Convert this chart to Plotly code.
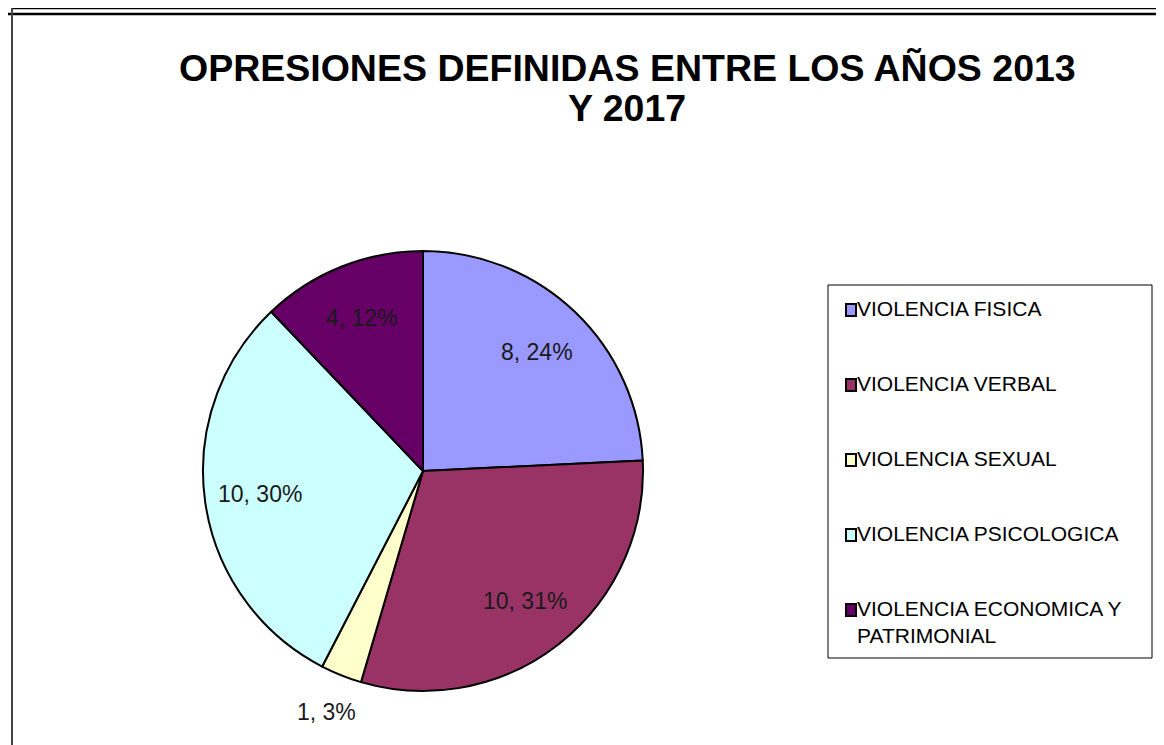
import math
import plotly.graph_objects as go

categories = ["VIOLENCIA FISICA", "VIOLENCIA VERBAL", "VIOLENCIA SEXUAL",
              "VIOLENCIA PSICOLOGICA", "VIOLENCIA ECONOMICA Y PATRIMONIAL"]
legend_labels = ["VIOLENCIA FISICA", "VIOLENCIA VERBAL", "VIOLENCIA SEXUAL",
                 "VIOLENCIA PSICOLOGICA", "VIOLENCIA ECONOMICA Y<br>PATRIMONIAL"]
values = [8, 10, 1, 10, 4]
pct_labels = ["24%", "31%", "3%", "30%", "12%"]
colors = ["#9999FF", "#993366", "#FFFFCC", "#CCFFFF", "#660066"]
title_lines = ["OPRESIONES DEFINIDAS ENTRE LOS AÑOS 2013", "Y 2017"]

# page body has an 8px margin: figure is drawn 8px right/down of the window edge
OFF = 8
W, H = 1164 - OFF, 745 - OFF
FONT = "Liberation Sans, Arial, sans-serif"


def px(x):
    return (x - OFF) / W


def py(y):
    return 1 - (y - OFF) / H


# pie geometry (window pixel coordinates)
CX, CY, R = 423, 471, 220
INSIDE_R, OUTSIDE_R = 0.75, 1.18
inside = [True, True, False, True, True]

fig = go.Figure()
fig.add_trace(go.Pie(
    labels=categories,
    values=values,
    customdata=pct_labels,
    textinfo="none",
    marker=dict(colors=colors, line=dict(color="#000000", width=2)),
    sort=False,
    direction="clockwise",
    rotation=0,
    showlegend=False,
    domain=dict(x=[px(CX - R), px(CX + R)], y=[py(CY + R), py(CY - R)]),
    hovertemplate="%{label}<br>%{value}, %{customdata}<extra></extra>",
))

shapes = []
annotations = []

# data labels placed at each slice's mid-angle, computed from the values
total = sum(values)
cum = 0
for v, p, ins in zip(values, pct_labels, inside):
    mid = (cum + v / 2) / total * 2 * math.pi
    cum += v
    rr = R * (INSIDE_R if ins else OUTSIDE_R)
    lx = CX + rr * math.sin(mid)
    ly = CY - rr * math.cos(mid)
    annotations.append(dict(text="%d, %s" % (v, p), xref="paper", yref="paper",
                            x=px(lx), y=py(ly), xanchor="center", yanchor="middle",
                            showarrow=False,
                            font=dict(family=FONT, size=23, color="#1a1a1a")))

# frame lines
shapes.append(dict(type="line", xref="paper", yref="paper", x0=px(12), x1=1.0,
                   y0=py(8.5), y1=py(8.5), line=dict(color="#000000", width=1.5)))
shapes.append(dict(type="line", xref="paper", yref="paper", x0=px(5), x1=px(1163),
                   y0=py(14), y1=py(14), line=dict(color="#000000", width=2.5)))
shapes.append(dict(type="line", xref="paper", yref="paper", x0=px(12), x1=px(12),
                   y0=py(8), y1=0, line=dict(color="#444444", width=2)))

# title
for line, base in zip(title_lines, [83, 123]):
    annotations.append(dict(text="<b>%s</b>" % line, xref="paper", yref="paper",
                            x=px(627), y=py(base + 8), xanchor="center", yanchor="bottom",
                            showarrow=False,
                            font=dict(family=FONT, size=37.5, color="#000000")))

# legend box
shapes.append(dict(type="rect", xref="paper", yref="paper", x0=px(828), x1=px(1152),
                   y0=py(658), y1=py(285), line=dict(color="#000000", width=1),
                   fillcolor="rgba(0,0,0,0)"))
item_y = [310, 385, 460, 535, 610]
for lab, col, yc in zip(legend_labels, colors, item_y):
    shapes.append(dict(type="rect", xref="paper", yref="paper", x0=px(846), x1=px(856),
                       y0=py(yc + 6), y1=py(yc - 6), fillcolor=col,
                       line=dict(color="#000000", width=2)))
    annotations.append(dict(text=lab, xref="paper", yref="paper", x=px(855),
                            y=py(yc - 15), xanchor="left", yanchor="top", align="left",
                            showarrow=False,
                            font=dict(family=FONT, size=21, color="#000000")))

fig.update_layout(
    width=W, height=H,
    margin=dict(l=0, r=0, t=0, b=0),
    paper_bgcolor="#FFFFFF",
    plot_bgcolor="#FFFFFF",
    shapes=shapes,
    annotations=annotations,
)

fig.write_html("out.html")
